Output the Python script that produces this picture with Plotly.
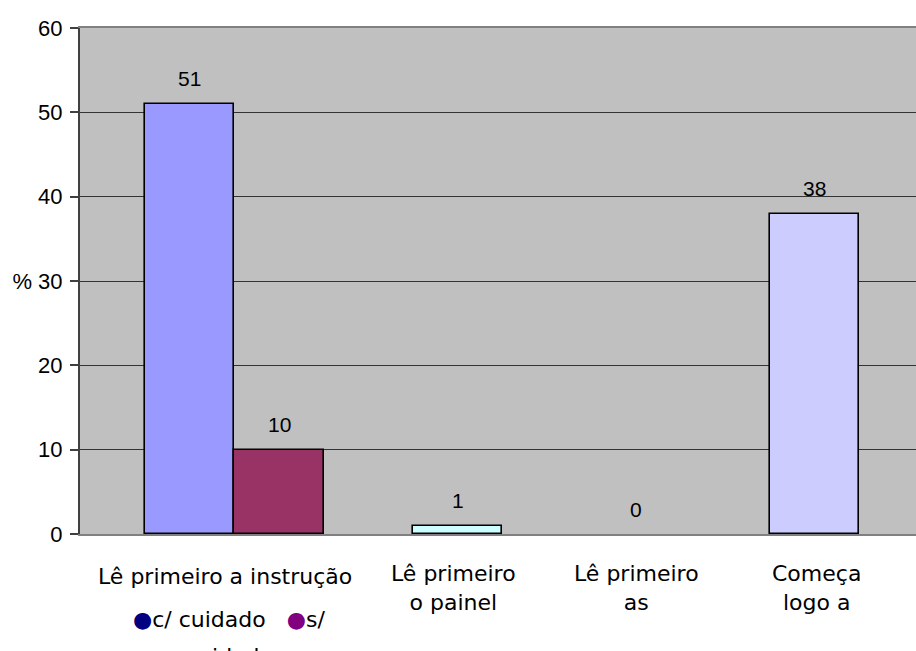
import plotly.graph_objects as go

# Response shares (%) for each reading behaviour
bar_names = ["c/ cuidado", "s/ cuidado", "Lê primeiro o painel",
             "Lê primeiro as instruções", "Começa logo a"]
values = [51, 10, 1, 0, 38]
bar_colors = ["#9999FF", "#993366", "#CCFFFF", "#C0C0C0", "#CCCCFF"]

# Category captions below the axis
cat_labels = ["Lê primeiro a instrução", "Lê primeiro<br>o painel",
              "Lê primeiro<br>as", "Começa<br>logo a"]
legend_items = ["c/ cuidado", "s/"]
legend_dots = ["#000080", "#800080"]

y_ticks = [0, 10, 20, 30, 40, 50, 60]
y_ticktext = ["0", "10", "20", "% 30", "40", "50", "60"]

# Layout: bar centres on a linear axis (one unit per category slot)
bar_pos = [0.5, 1.0, 2.0, 3.0, 4.0]
bar_width = 0.5
label_pos = [0.70, 1.98, 3.0, 4.01]

num_font = dict(family="Liberation Sans, Arial, sans-serif", size=21, color="#000000")
cat_font = dict(family="DejaVu Sans, sans-serif", size=22, color="#000000")

fig = go.Figure()
fig.add_trace(go.Bar(
    x=bar_pos,
    y=values,
    width=bar_width,
    marker=dict(color=bar_colors,
                line=dict(color="#000000",
                          width=[0 if v == 0 else 1.6 for v in values])),
    showlegend=False,
    hoverinfo="skip",
))

annotations = []
# value labels above each bar
for xp, v in zip(bar_pos, values):
    annotations.append(dict(x=xp, y=v, xref="x", yref="y", text=str(v),
                            showarrow=False, yanchor="middle", yshift=25,
                            font=num_font))

# category captions
for i, (xp, txt) in enumerate(zip(label_pos, cat_labels)):
    annotations.append(dict(x=xp, y=0, xref="x", yref="paper", text=txt,
                            showarrow=False, yanchor="middle",
                            yshift=-42 if i == 0 else -54,
                            font=cat_font))

# inline key under the first caption
key_text = "   ".join(
    f"<span style='color:{c}'>●</span>{t}"
    for c, t in zip(legend_dots, legend_items)
)
annotations.append(dict(x=0.72, y=0, xref="x", yref="paper", text=key_text,
                        showarrow=False, yanchor="middle", yshift=-85,
                        font=cat_font))
annotations.append(dict(x=0.72, y=0, xref="x", yref="paper", text="cuidado",
                        showarrow=False, yanchor="middle", yshift=-122,
                        font=cat_font))

fig.update_layout(
    width=916,
    height=651,
    margin=dict(l=80, r=0, t=28, b=117),
    paper_bgcolor="#FFFFFF",
    plot_bgcolor="#C0C0C0",
    bargap=0,
    annotations=annotations,
    xaxis=dict(
        range=[-0.1148, 4.568],
        showticklabels=False,
        ticks="",
        showgrid=False,
        zeroline=False,
        showline=True,
        linecolor="#808080",
        linewidth=2,
        mirror=True,
        fixedrange=True,
    ),
    yaxis=dict(
        range=[0, 60],
        tickvals=y_ticks,
        ticktext=y_ticktext,
        ticks="outside",
        ticklen=8,
        tickwidth=1.5,
        tickcolor="#404040",
        ticklabelstandoff=3,
        tickfont=dict(family="Liberation Sans, Arial, sans-serif", size=22,
                      color="#000000"),
        showgrid=True,
        gridcolor="#333333",
        gridwidth=1,
        zeroline=False,
        showline=True,
        linecolor="#404040",
        linewidth=2,
        fixedrange=True,
    ),
)

fig.write_html("out.html")
